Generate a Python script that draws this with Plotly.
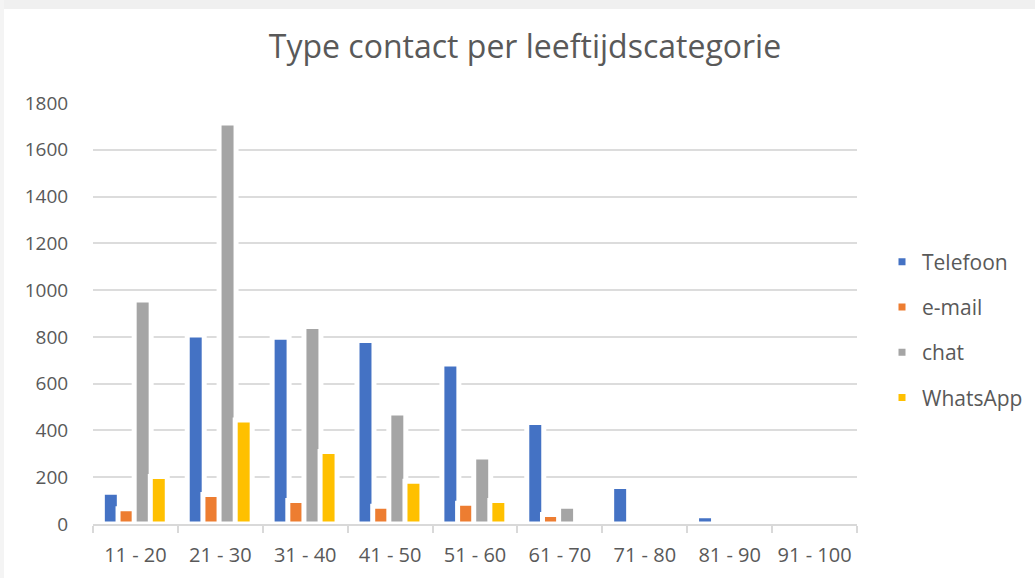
import plotly.graph_objects as go

categories = ["11 - 20", "21 - 30", "31 - 40", "41 - 50", "51 - 60",
              "61 - 70", "71 - 80", "81 - 90", "91 - 100"]
telefoon = [136, 808, 798, 785, 684, 434, 160, 35, 0]
email = [65, 126, 100, 76, 89, 41, 0, 0, 0]
chat = [958, 1714, 844, 475, 286, 76, 0, 0, 0]
whatsapp = [203, 445, 310, 183, 100, 0, 0, 0, 0]
y_ticks = [0, 200, 400, 600, 800, 1000, 1200, 1400, 1600, 1800]

series = [
    ("Telefoon", telefoon, "#4472C4", -0.39),
    ("e-mail", email, "#ED7D31", -0.205),
    ("chat", chat, "#A5A5A5", -0.015),
    ("WhatsApp", whatsapp, "#FFC000", 0.175),
]

W, H = 1035, 578
L, R, T, B = 93, 178, 103, 54
PW, PH = W - L - R, H - T - B

def px_x(x):
    return (x - L) / PW

def px_y(y):
    return (H - B - y) / PH

FONT = "Open Sans"
TXT = "#595959"

fig = go.Figure()
for name, vals, color, off in series:
    fig.add_trace(go.Bar(
        x=categories, y=vals, name=name, offset=off, width=0.2,
        marker=dict(color=color, line=dict(color="white", width=5)),
        showlegend=False,
    ))
for i, (name, vals, color, off) in enumerate(series):
    fig.add_trace(go.Scatter(
        x=[None], y=[None], mode="markers", name=name,
        marker=dict(symbol="square", size=7, color=color),
        legendgroup=f"g{i}", showlegend=True,
    ))

fig.update_layout(
    width=W, height=H,
    barmode="overlay",
    paper_bgcolor="white", plot_bgcolor="white",
    margin=dict(l=L, r=R, t=T, b=B, autoexpand=False),
    title=dict(text="Type contact per leeftijdscategorie",
               x=525 / W, xanchor="center", y=1 - 47 / H, yanchor="middle",
               font=dict(family=FONT, size=32, color=TXT)),
    font=dict(family=FONT, color=TXT),
    legend=dict(x=px_x(882), xanchor="left", y=px_y(330), yanchor="middle",
                font=dict(family=FONT, size=21, color=TXT),
                tracegroupgap=15, itemwidth=30, bgcolor="rgba(0,0,0,0)"),
    xaxis=dict(type="category", categoryorder="array", categoryarray=categories,
               range=[-0.5, 8.5], showline=True, linecolor="#d9d9d9", linewidth=2,
               ticks="outside", tickson="boundaries", ticklen=7, tickcolor="#d9d9d9",
               tickwidth=2, showgrid=False, ticklabelstandoff=12,
               tickfont=dict(family=FONT, size=20, color=TXT)),
    yaxis=dict(range=[0, 1800], tickvals=y_ticks, showgrid=True,
               gridcolor="#dcdcdc", gridwidth=2, zeroline=False,
               ticks="outside", ticklen=20, tickcolor="rgba(0,0,0,0)",
               tickfont=dict(family=FONT, size=19, color=TXT)),
    shapes=[
        dict(type="rect", xref="paper", yref="paper",
             x0=px_x(0), x1=px_x(W), y0=px_y(9), y1=px_y(0),
             fillcolor="#f0f0f0", line=dict(width=0), layer="below"),
        dict(type="rect", xref="paper", yref="paper",
             x0=px_x(0), x1=px_x(4), y0=px_y(H), y1=px_y(0),
             fillcolor="#f4f4f4", line=dict(width=0), layer="below"),
    ],
)

fig.write_html(
    "out.html",
    config={"displayModeBar": False},
    post_script="document.body.style.margin='0';document.body.style.overflow='hidden';",
)
